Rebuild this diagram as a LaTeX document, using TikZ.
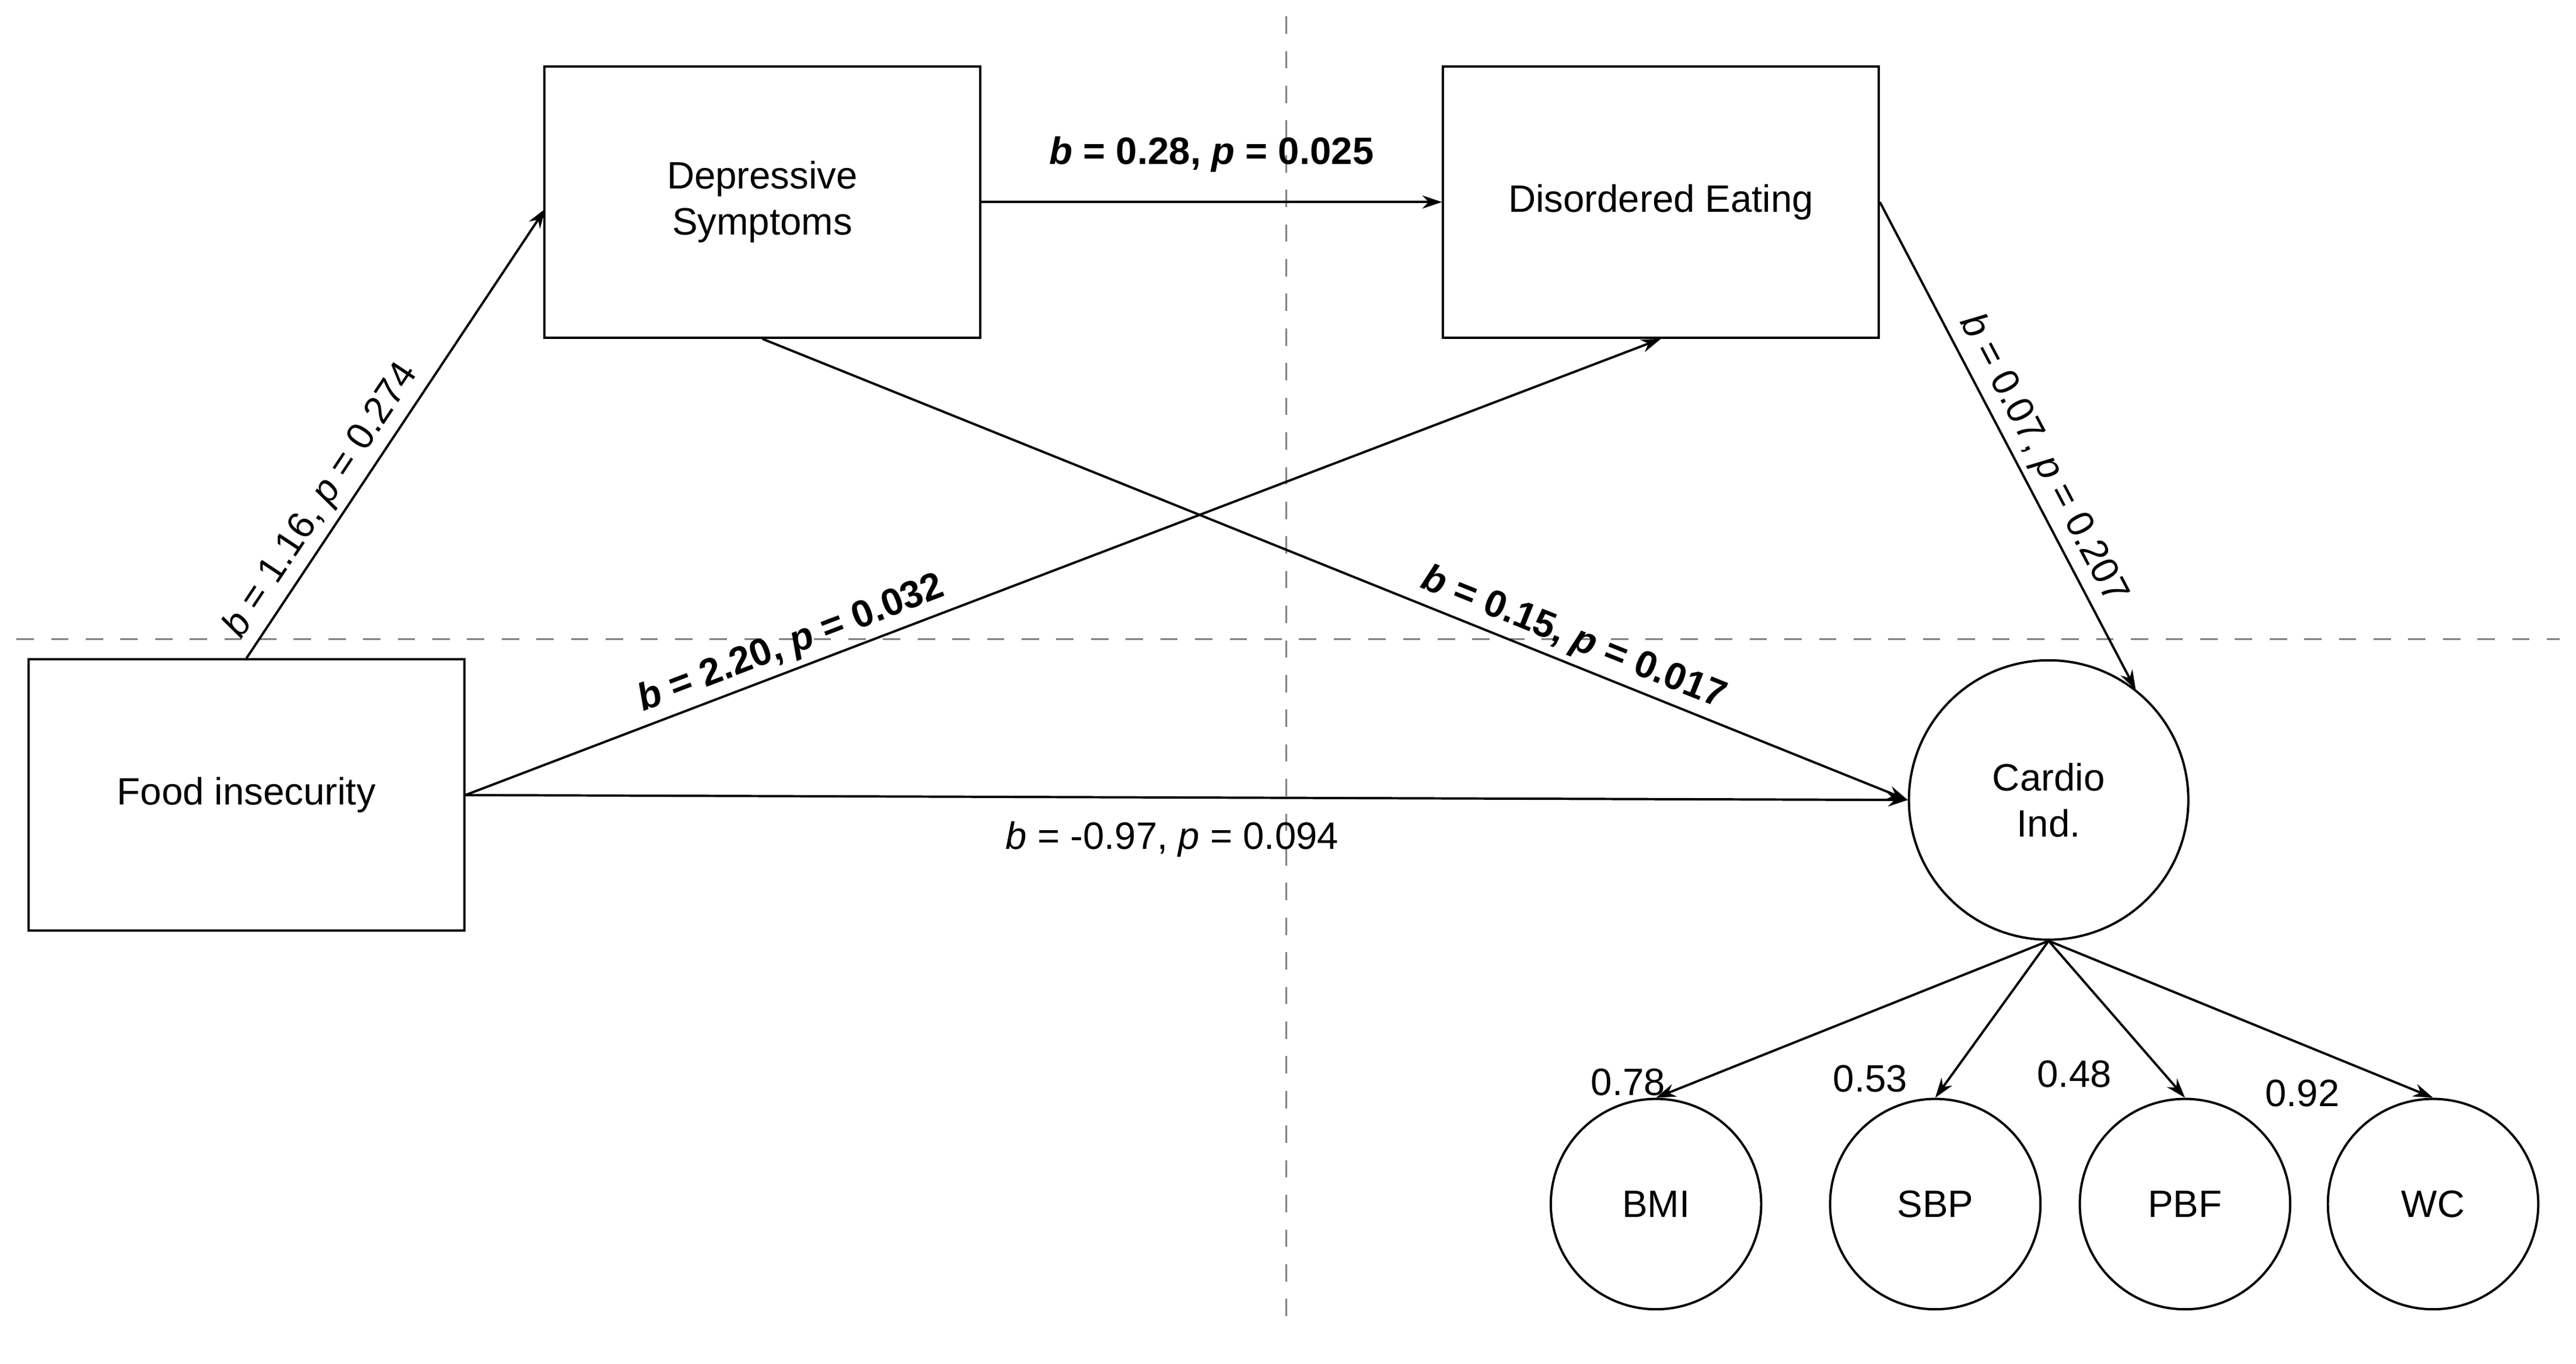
\documentclass[tikz,border=0pt]{standalone}
\usepackage{fontspec}
\setmainfont{Liberation Sans}
\usetikzlibrary{arrows.meta}

\tikzset{
  box/.style={draw, line width=0.4pt, minimum width=2.65cm, minimum height=1.65cm, align=center, inner sep=0pt},
  latent/.style={draw, circle, line width=0.4pt, minimum size=1.7cm, align=center, inner sep=0pt},
  ind/.style={draw, circle, line width=0.4pt, minimum size=1.28cm, inner sep=0pt},
  path/.style={-{Stealth[length=1.2mm,width=0.8mm]}, line width=0.4pt},
  est/.style={font=\fontsize{6.6}{7.5}\selectfont, inner sep=1pt}
}

\begin{document}
\begin{tikzpicture}[x=0.01cm, y=-0.01cm, font=\fontsize{6.6}{8}\selectfont]
\useasboundingbox (0,0) rectangle (1568,830);

% quadrant guides
\draw [dashed, gray, line width=0.3pt] (783,10) -- (783,810);
\draw [dashed, gray, line width=0.3pt] (10,389) -- (1558,389);

\node (food) [box] at (150,484) {Food insecurity};
\node (dep) [box] at (464,123) {Depressive\\Symptoms};
\node (dis) [box] at (1011,123) {Disordered Eating};
\node (cardio) [latent] at (1247,487) {Cardio\\Ind.};

\node (bmi) [ind] at (1008,733) {BMI};
\node (sbp) [ind] at (1178,733) {SBP};
\node (pbf) [ind] at (1330,733) {PBF};
\node (wc) [ind] at (1481,733) {WC};

\coordinate (c-top) at (1300,420);
\coordinate (d-in) at (332,127);

\draw [path] (food.north) -- (d-in)
  node [est, sloped, above, pos=0.32] {\textit{b} = 1.16, \textit{p} = 0.274};
\draw [path] (dep.east) -- (dis.west)
  node [est, above=4pt, midway] {\textbf{\textit{b} = 0.28, \textit{p} = 0.025}};
\draw [path] (dep.south) -- (cardio.west)
  node [est, sloped, above, pos=0.7] {\textbf{\textit{b} = 0.15, \textit{p} = 0.017}};
\draw [path] (food.east) -- (dis.south)
  node [est, sloped, above, pos=0.28] {\textbf{\textit{b} = 2.20, \textit{p} = 0.032}};
\draw [path] (food.east) -- (cardio.west)
  node [est, below=3pt, pos=0.49] {\textit{b} = -0.97, \textit{p} = 0.094};
\draw [path] (dis.east) -- (c-top)
  node [est, sloped, above, pos=0.55] {\textit{b} = 0.07, \textit{p} = 0.207};

\draw [path] (cardio.south) -- (bmi.north) node [est, pos=0.9, left=4pt] {0.78};
\draw [path] (cardio.south) -- (sbp.north) node [est, pos=0.88, left=6pt] {0.53};
\draw [path] (cardio.south) -- (pbf.north) node [est, pos=0.85, left=8pt] {0.48};
\draw [path] (cardio.south) -- (wc.north) node [est, pos=0.97, left=13pt] {0.92};
\end{tikzpicture}
\end{document}
